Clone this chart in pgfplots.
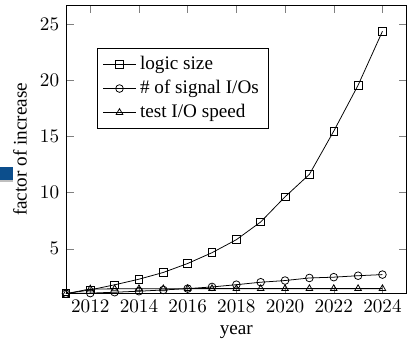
\documentclass[border=0pt]{standalone}
\usepackage{fontspec}
\setmainfont{Liberation Serif}
\usepackage{pgfplots}
\pgfplotsset{compat=1.18}
\begin{document}
\begin{tikzpicture}
\begin{axis}[
  scale only axis,
  width=177.8pt, height=150.5pt,
  xmin=2011, xmax=2025, ymin=1, ymax=26.7,
  xtick={2012,2014,...,2024}, ytick={5,10,15,20,25},
  xticklabel style={/pgf/number format/1000 sep={}},
  xlabel={year}, ylabel={factor of increase},
  legend style={at={(0.09,0.85)}, anchor=north west, cells={anchor=west}},
  every axis plot/.append style={black, mark options={solid, fill=white}},
]
\addplot[mark=square] coordinates {
 (2011,1.0) (2012,1.34) (2013,1.79) (2014,2.29) (2015,2.89) (2016,3.69) (2017,4.65)
 (2018,5.81) (2019,7.39) (2020,9.63) (2021,11.63) (2022,15.48) (2023,19.57) (2024,24.37)};
\addlegendentry{logic size}
\addplot[mark=o] coordinates {
 (2011,1.0) (2012,1.05) (2013,1.13) (2014,1.22) (2015,1.33) (2016,1.45) (2017,1.6)
 (2018,1.8) (2019,2.02) (2020,2.17) (2021,2.4) (2022,2.47) (2023,2.6) (2024,2.7)};
\addlegendentry{\# of signal I/Os}
\addplot[mark=triangle] coordinates {
 (2011,1.0) (2012,1.42) (2013,1.43) (2014,1.44) (2015,1.44) (2016,1.45) (2017,1.45)
 (2018,1.45) (2019,1.45) (2020,1.45) (2021,1.45) (2022,1.45) (2023,1.45) (2024,1.45)};
\addlegendentry{test I/O speed}
\end{axis}
\fill[color={rgb,255:red,12;green,78;blue,140}] ([shift={(-34.4pt,59.4pt)}]current axis.south west) rectangle ++(6.8pt,6.8pt);
\fill[gray!50] ([shift={(-34.4pt,58.4pt)}]current axis.south west) rectangle ++(6.8pt,1pt);
\path ([yshift=2.7pt]current axis.north);
\end{tikzpicture}
\end{document}
